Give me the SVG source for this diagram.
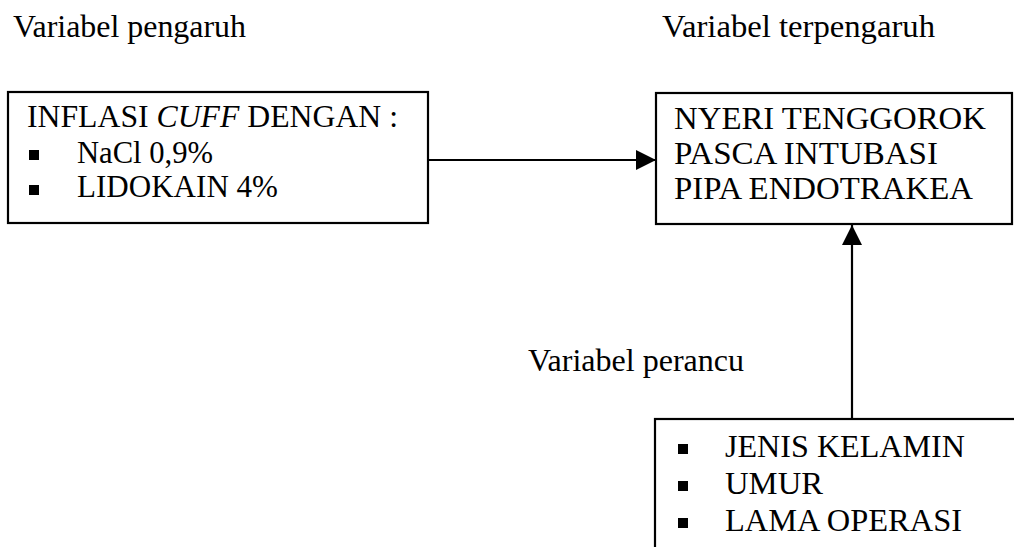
<svg xmlns="http://www.w3.org/2000/svg" width="1014" height="547" viewBox="0 0 1014 547">
  <style>
    text { font-family: "Liberation Serif", "Times New Roman", serif; font-size: 31px; fill: #000; }
    .box { fill: none; stroke: #000; stroke-width: 2.2; }
    .line { fill: none; stroke: #000; stroke-width: 2.2; }
    .bullet { fill: #000; }
  </style>
  <defs>
    <marker id="arrow" viewBox="0 0 20 20" markerWidth="20" markerHeight="20" refX="20" refY="10" markerUnits="userSpaceOnUse" orient="auto">
      <path d="M0,0 L20,10 L0,20 Z" fill="#000"/>
    </marker>
  </defs>
  <rect width="1014" height="547" fill="#fff"/>

  <g id="label-pengaruh">
    <text x="13" y="37" textLength="233" lengthAdjust="spacingAndGlyphs">Variabel pengaruh</text>
  </g>
  <g id="label-terpengaruh">
    <text x="662" y="37" textLength="273" lengthAdjust="spacingAndGlyphs">Variabel terpengaruh</text>
  </g>
  <g id="label-perancu">
    <text x="528" y="371" textLength="216" lengthAdjust="spacingAndGlyphs">Variabel perancu</text>
  </g>

  <g id="node-inflasi">
    <rect class="box" x="8" y="92" width="420" height="131"/>
    <text x="27" y="127" textLength="371" lengthAdjust="spacingAndGlyphs">INFLASI <tspan font-style="italic">CUFF</tspan> DENGAN :</text>
    <rect class="bullet" x="29" y="150" width="10" height="10"/>
    <text x="77" y="163" textLength="136" lengthAdjust="spacingAndGlyphs">NaCl 0,9%</text>
    <rect class="bullet" x="29" y="185" width="10" height="10"/>
    <text x="77" y="197" textLength="201" lengthAdjust="spacingAndGlyphs">LIDOKAIN 4%</text>
  </g>

  <g id="node-nyeri">
    <rect class="box" x="656" y="93" width="356" height="131"/>
    <text x="674" y="129" textLength="312" lengthAdjust="spacingAndGlyphs">NYERI TENGGOROK</text>
    <text x="674" y="164" textLength="264" lengthAdjust="spacingAndGlyphs">PASCA INTUBASI</text>
    <text x="674" y="199" textLength="299" lengthAdjust="spacingAndGlyphs">PIPA ENDOTRAKEA</text>
  </g>

  <g id="node-perancu">
    <rect class="box" x="655" y="419" width="420" height="200"/>
    <rect class="bullet" x="678" y="444" width="10" height="10"/>
    <text x="725" y="457" textLength="240" lengthAdjust="spacingAndGlyphs">JENIS KELAMIN</text>
    <rect class="bullet" x="678" y="481" width="10" height="10"/>
    <text x="725" y="494" textLength="98" lengthAdjust="spacingAndGlyphs">UMUR</text>
    <rect class="bullet" x="678" y="518" width="10" height="10"/>
    <text x="725" y="531" textLength="237" lengthAdjust="spacingAndGlyphs">LAMA OPERASI</text>
  </g>

  <g id="connectors">
    <line class="line" x1="428" y1="160" x2="656" y2="160" marker-end="url(#arrow)"/>
    <line class="line" x1="852" y1="419" x2="852" y2="225" marker-end="url(#arrow)"/>
  </g>
</svg>
